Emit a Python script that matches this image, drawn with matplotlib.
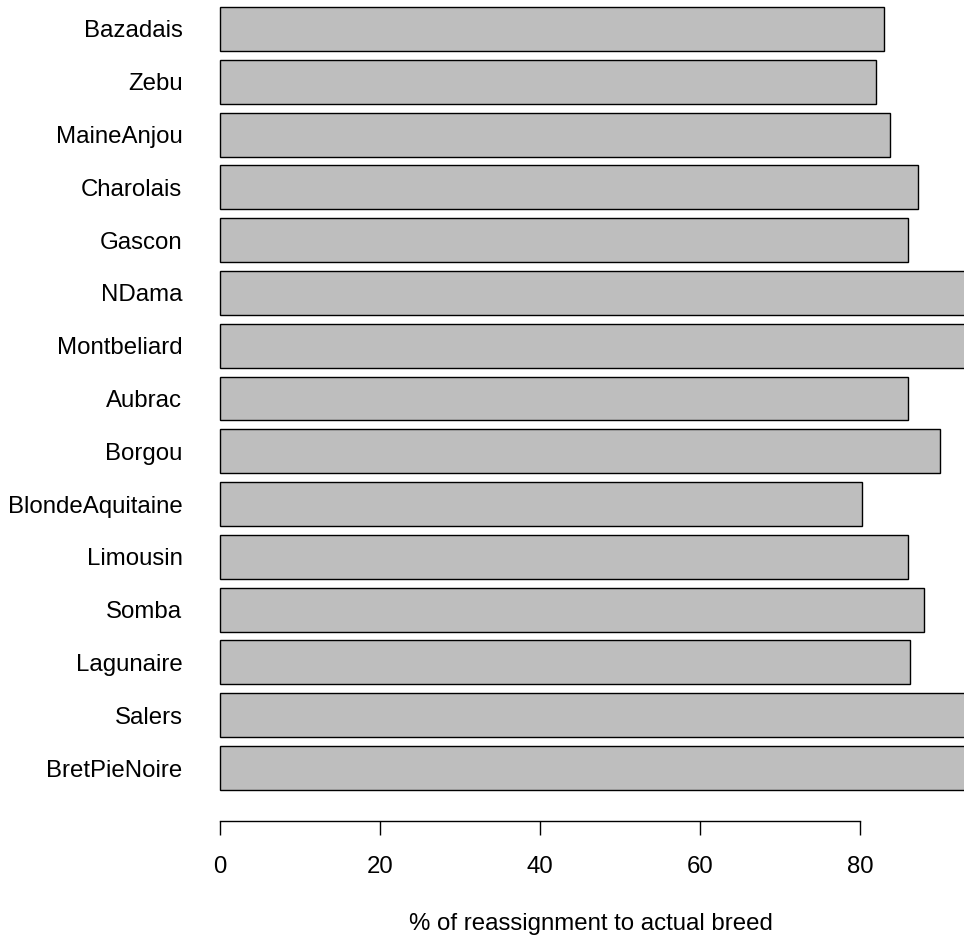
import numpy as np
import matplotlib
matplotlib.use("Agg")
from matplotlib import pyplot as plt

# breeds listed bottom to top, as barplot(horiz=TRUE) draws them
breeds = ['BretPieNoire', 'Salers', 'Lagunaire', 'Somba', 'Limousin',
          'BlondeAquitaine', 'Borgou', 'Aubrac', 'Montbeliard', 'NDama',
          'Gascon', 'Charolais', 'MaineAnjou', 'Zebu', 'Bazadais']
reassign_pct = [100, 100, 86.3, 88.0, 86.0,
                80.3, 90.0, 86.0, 100, 100,
                86.0, 87.3, 83.7, 82.0, 83.0]
xticks = [0, 20, 40, 60, 80]

plt.rcParams['font.family'] = ['Liberation Sans', 'DejaVu Sans']

W, H = 964, 936
fig = plt.figure(figsize=(W / 100, H / 100), dpi=100)

# plot region in pixels (R style, image cropped at top and right)
left_px, right_px = 188, 964
bottom_px, top_px = 821, 0
ax = fig.add_axes([left_px / W, 1 - bottom_px / H,
                   (right_px - left_px) / W, (bottom_px - top_px) / H])

# R barplot geometry: width 1, space 0.2 -> bars span 0.2 .. 18.0
y = 0.2 + np.arange(len(breeds)) * 1.2 + 0.5
ax.barh(y, reassign_pct, height=1.0, color='#bebebe',
        edgecolor='black', linewidth=1.0)

ax.set_yticks(y)
ax.set_yticklabels(breeds)
ax.set_xticks(xticks)
ax.set_xticklabels([str(t) for t in xticks])

# bottom bar edge at 790 px, top bar edge at 7 px
ppu = (790 - 7) / 17.8
ylo = 0.2 - (bottom_px - 790) / ppu
ax.set_xlim(-4, 93)
ax.set_ylim(ylo, ylo + (bottom_px - top_px) / ppu)

for s in ['top', 'right', 'left']:
    ax.spines[s].set_visible(False)
ax.spines['bottom'].set_bounds(0, 80)
ax.spines['bottom'].set_linewidth(1.0)

ax.tick_params(axis='x', direction='out', length=10, width=1.0, pad=15,
               labelsize=17.3)
ax.tick_params(axis='y', length=0, pad=4, labelsize=17.3)

fig.text(591 / W, 1 - 924 / H, '% of reassignment to actual breed',
         ha='center', va='center', fontsize=17.3)

fig.savefig('out.png', dpi=100)
